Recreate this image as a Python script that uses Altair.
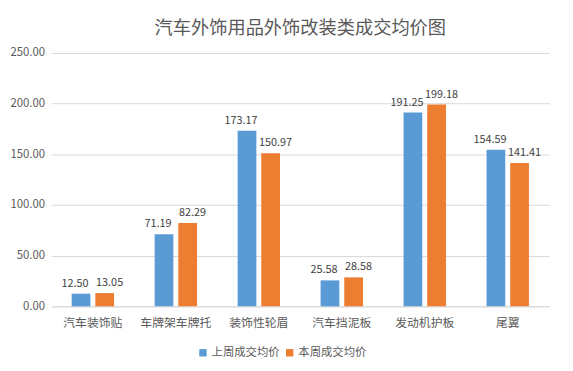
import altair as alt
import pandas as pd

categories = ["汽车装饰贴", "车牌架车牌托", "装饰性轮眉", "汽车挡泥板", "发动机护板", "尾翼"]
series_names = ["上周成交均价", "本周成交均价"]
last_week = [12.50, 71.19, 173.17, 25.58, 191.25, 154.59]
this_week = [13.05, 82.29, 150.97, 28.58, 199.18, 141.41]
y_ticks = [0, 50, 100, 150, 200, 250]
colors = ["#5B9BD5", "#ED7D31"]

rows = []
for i, c in enumerate(categories):
    rows.append({"cat": c, "series": series_names[0], "value": last_week[i]})
    rows.append({"cat": c, "series": series_names[1], "value": this_week[i]})
df = pd.DataFrame(rows)

FONT = "Noto Sans CJK SC"

x_enc = alt.X("cat:N", sort=categories, title=None,
              scale=alt.Scale(paddingInner=0.489, paddingOuter=0.2445),
              axis=alt.Axis(labelAngle=0, ticks=False, domainColor="#D9D9D9",
                            labelColor="#595959", labelFontSize=12, labelFont=FONT,
                            labelPadding=11))
xo_enc = alt.XOffset("series:N", sort=series_names,
                     scale=alt.Scale(paddingInner=0.2083, paddingOuter=0))
y_enc = alt.Y("value:Q", title=None,
              scale=alt.Scale(domain=[0, 250], nice=False),
              axis=alt.Axis(values=y_ticks, format=".2f", ticks=False, domain=False,
                            gridColor="#D9D9D9", labelColor="#595959", labelFontSize=11.5,
                            labelFont=FONT, labelPadding=7))

bars = alt.Chart(df).mark_bar().encode(
    x=x_enc,
    xOffset=xo_enc,
    y=y_enc,
    color=alt.Color("series:N", sort=series_names,
                    scale=alt.Scale(domain=series_names, range=colors),
                    legend=alt.Legend(title=None, orient="none", direction="horizontal",
                                      legendX=148, legendY=298, symbolType="square",
                                      symbolSize=56, symbolStrokeWidth=0,
                                      labelFont=FONT, labelFontSize=11.5,
                                      labelColor="#595959", columnPadding=4,
                                      labelOffset=3)),
)


def label_layer(name, shift):
    return alt.Chart(df).transform_filter(alt.datum.series == name).mark_text(
        baseline="bottom", dy=-5, dx=shift, fontSize=11, font=FONT, color="#404040"
    ).encode(
        x=alt.X("cat:N", sort=categories),
        xOffset=alt.XOffset("series:N", sort=series_names),
        y=alt.Y("value:Q"),
        text=alt.Text("value:Q", format=".2f"),
    )


chart = alt.layer(bars, label_layer(series_names[0], -6), label_layer(series_names[1], 5)).properties(
    width=505, height=257,
    title=alt.Title("汽车外饰用品外饰改装类成交均价图", font=FONT, fontSize=18.5,
                    fontWeight="normal", color="#595959", anchor="middle", offset=10),
    autosize=alt.AutoSizeParams(type="none"),
    padding={"left": 44, "top": 43, "right": 16, "bottom": 63},
    background="white",
).configure_view(stroke=None)

chart.save("out.html", embed_options={"renderer": "svg", "actions": False})
